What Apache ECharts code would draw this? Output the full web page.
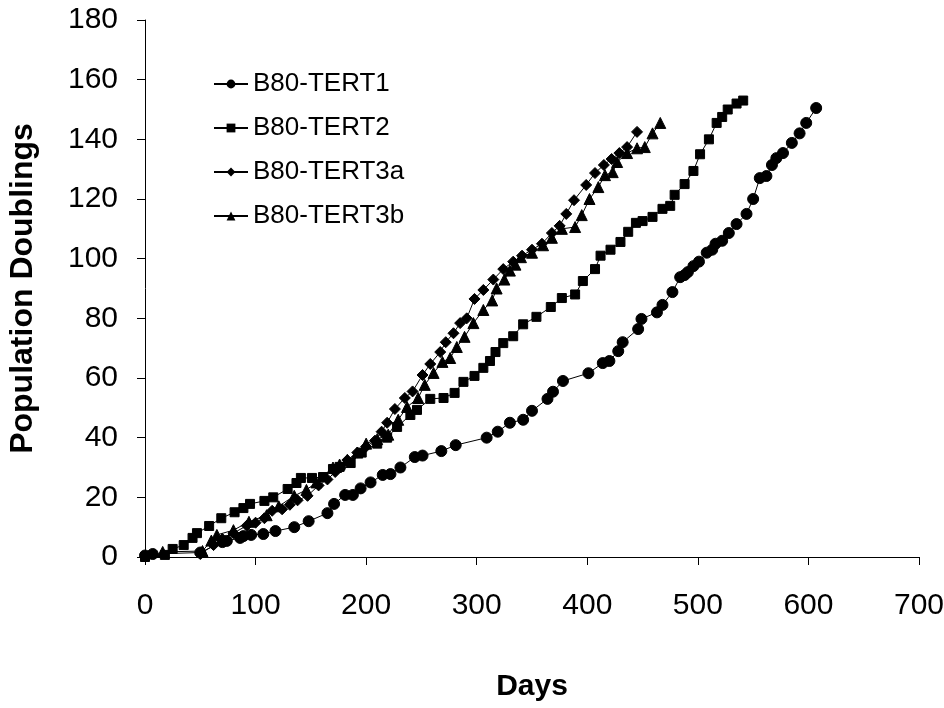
<!DOCTYPE html>
<html>
<head>
<meta charset="utf-8">
<script src="https://cdn.jsdelivr.net/npm/echarts@6/dist/echarts.min.js"></script>
<style>html,body{margin:0;padding:0;background:#fff}#c{width:944px;height:708px}</style>
</head>
<body>
<div id="c"></div>
<script>
var seriesNames = ['B80-TERT1', 'B80-TERT2', 'B80-TERT3a', 'B80-TERT3b'];
var xTicks = [0, 100, 200, 300, 400, 500, 600, 700];
var yTicks = [0, 20, 40, 60, 80, 100, 120, 140, 160, 180];

var tert1 = [[0,0.5],[7,1],[50,1.5],[70,5],[74,5.4],[86,6.4],[89,7],[96,7.4],[107,7.7],[118,8.7],[135,10],[148,12],[165,14.7],[171,17.8],[181,20.8],[188,20.8],[195,23],[204,25],[215,27.5],[222,27.8],[231,30],[244,33.5],[251,34],[268,35.5],[281,37.5],[309,40],[319,42],[330,45],[342,46],[350,49],[364,53],[369,55.4],[378,59],[401,61.6],[414,65],[420,65.7],[428,69],[432,72],[446,76.4],[449,79.8],[463,82],[468,84.5],[477,88.8],[484,93.8],[488,94.5],[491,95.5],[496,97.5],[501,99],[508,102],[513,103],[516,105],[522,106],[528,108.6],[535,111.6],[544,115],[550,120],[556,127],[562,127.7],[567,131.4],[571,133.7],[577,135.4],[585,138.8],[592,142],[598,145.5],[607,150.5]];

var tert2 = [[0,0],[18,0.7],[25,2.7],[35,4],[43,6.4],[47,8],[58,10.4],[69,13],[81,15],[89,16.4],[95,17.8],[108,18.8],[116,20],[129,22.8],[137,24.8],[141,26.5],[151,26.5],[161,26.8],[170,29.5],[176,30.2],[186,31.5],[196,35],[210,38],[219,40],[228,43.6],[240,47.6],[246,49.3],[258,53],[270,53.3],[280,55],[288,58.7],[298,60.7],[306,63.4],[312,65.7],[317,68.7],[324,71.7],[333,74],[342,78],[354,80.5],[367,83.8],[377,86.8],[389,88],[396,92.5],[407,96.5],[412,101],[421,103],[430,105.6],[437,109],[444,112],[450,112.6],[459,114],[468,116.7],[475,117.7],[479,121.4],[488,125],[496,129.4],[502,135],[510,140],[517,145.5],[522,147.5],[527,150],[535,152],[541,153]];

var tert3a = [[50,1],[62,4],[70,6],[80,8],[92,10.5],[100,11.5],[108,13],[115,15.5],[124,16],[131,17.5],[138,19],[147,20.5],[157,24],[165,26],[172,28.5],[177,30],[183,32.5],[192,35],[200,37],[208,39],[214,42],[219,45],[226,49.6],[235,53.3],[242,55.5],[251,61],[258,64.7],[267,68.7],[272,72],[279,75],[285,78.4],[291,80],[298,86.5],[306,89.5],[315,93],[324,96.5],[333,99],[341,101],[350,103],[359,105],[368,108.6],[375,111],[381,115],[388,119.6],[399,124.7],[407,128.7],[415,131.4],[422,133.4],[429,135.4],[436,137.4],[445,142.5]];

var tert3b = [[16,1.7],[52,2],[60,5.5],[65,7.4],[80,9],[94,11.8],[110,14],[121,17],[135,20.5],[146,22.5],[155,25],[170,30],[176,31],[183,32.5],[192,35],[200,38],[210,39.5],[220,41],[229,46],[237,50.3],[247,53.3],[253,57.7],[261,61.7],[269,65.4],[276,66.7],[282,70.4],[289,73.8],[297,78.4],[306,82.8],[314,86],[318,90],[325,93],[330,96],[335,98],[340,100.5],[350,102],[360,104.5],[368,107],[377,110],[389,110.6],[395,114.6],[402,120],[410,124],[416,128],[423,129],[427,132.4],[436,135.4],[445,137],[452,137.4],[459,142],[466,145.5]];

var font = 'Liberation Sans, Arial, sans-serif';
var symbols = ['circle', 'rect', 'diamond', 'triangle'];
var sizes = [11, 9, 11, 11];
var datas = [tert1, tert2, tert3a, tert3b];

var chart = echarts.init(document.getElementById('c'), null, {renderer: 'canvas'});
chart.setOption({
  animation: false,
  backgroundColor: '#fff',
  grid: {left: 145, right: 25, top: 20, bottom: 151, containLabel: false, outerBoundsMode: 'none'},
  legend: {
    orient: 'vertical',
    left: 208,
    top: 66,
    itemGap: 18,
    itemWidth: 34,
    itemHeight: 11,
    textStyle: {fontFamily: font, fontSize: 26, color: '#000'},
    data: seriesNames
  },
  xAxis: {
    type: 'value',
    min: xTicks[0], max: xTicks[xTicks.length - 1], interval: 100,
    name: 'Days', nameLocation: 'middle', nameGap: 115,
    nameTextStyle: {fontFamily: font, fontSize: 30, fontWeight: 'bold', color: '#000'},
    axisLine: {show: true, lineStyle: {color: '#000', width: 1}},
    axisTick: {show: true, inside: false, length: 8, lineStyle: {color: '#000'}},
    axisLabel: {fontFamily: font, fontSize: 30, color: '#000', margin: 34},
    splitLine: {show: false}
  },
  yAxis: {
    type: 'value',
    min: yTicks[0], max: yTicks[yTicks.length - 1], interval: 20,
    name: 'Population Doublings', nameLocation: 'middle', nameGap: 106,
    nameTextStyle: {fontFamily: font, fontSize: 32, fontWeight: 'bold', color: '#000'},
    axisLine: {show: true, lineStyle: {color: '#000', width: 1}},
    axisTick: {show: true, inside: false, length: 8, lineStyle: {color: '#000'}},
    axisLabel: {fontFamily: font, fontSize: 30, color: '#000', margin: 27},
    splitLine: {show: false}
  },
  series: seriesNames.map(function (n, i) {
    return {
      name: n,
      type: 'line',
      data: datas[i],
      symbol: symbols[i],
      symbolSize: sizes[i],
      showAllSymbol: true,
      lineStyle: {color: '#000', width: 1},
      itemStyle: {color: '#000', borderColor: '#000'},
      emphasis: {disabled: true}
    };
  })
});
</script>
</body>
</html>
